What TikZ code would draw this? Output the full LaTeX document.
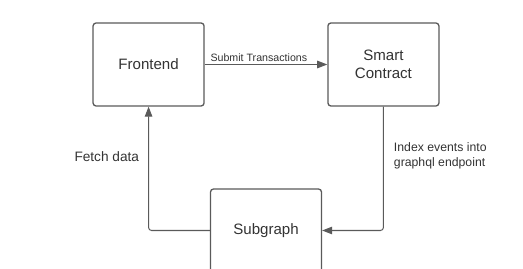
\documentclass[tikz,border=0pt]{standalone}
\usepackage{fontspec}
\setmainfont{Liberation Sans}
\usepackage{xcolor}
\usetikzlibrary{positioning,arrows.meta}
\definecolor{lineg}{HTML}{5A5A5A}
\definecolor{textg}{HTML}{333333}

\begin{document}
\begin{tikzpicture}[
  every node/.style={text=textg},
  block/.style={draw=lineg, line width=1.3pt, rounded corners=3pt, fill=white, align=center,
    minimum width=3.885cm, minimum height=2.905cm, font=\fontsize{15}{18}\selectfont},
  flow/.style={draw=lineg, line width=1pt, rounded corners=3pt, -{Triangle[length=10pt,width=7.5pt]}},
  tag/.style={align=left, inner sep=2pt},
]
\useasboundingbox (0,0) rectangle (18.305,9.415);
% ---------------- blocks ----------------
\node[block] (fe)  at (5.2,7.1575)    {Frontend};
\node[block] (sc)  at (13.42,7.1575)  {Smart\\Contract};
\node[block] (sub) at (9.31,1.3475)   {Subgraph};

% ---------------- connectors ----------------
\draw[flow] (fe) -- node[above, xshift=-0.25cm, tag, font=\fontsize{10.6}{12}\selectfont] {Submit Transactions} (sc);
\draw[flow] (sc) |- node[pos=0.2, right=8pt, tag, font=\fontsize{12.2}{15}\selectfont] {Index events into\\graphql endpoint} (sub);
\draw[flow] (sub) -| node[pos=0.8, left=7pt, tag, font=\fontsize{13.6}{16}\selectfont] {Fetch data} (fe);
\end{tikzpicture}
\end{document}
